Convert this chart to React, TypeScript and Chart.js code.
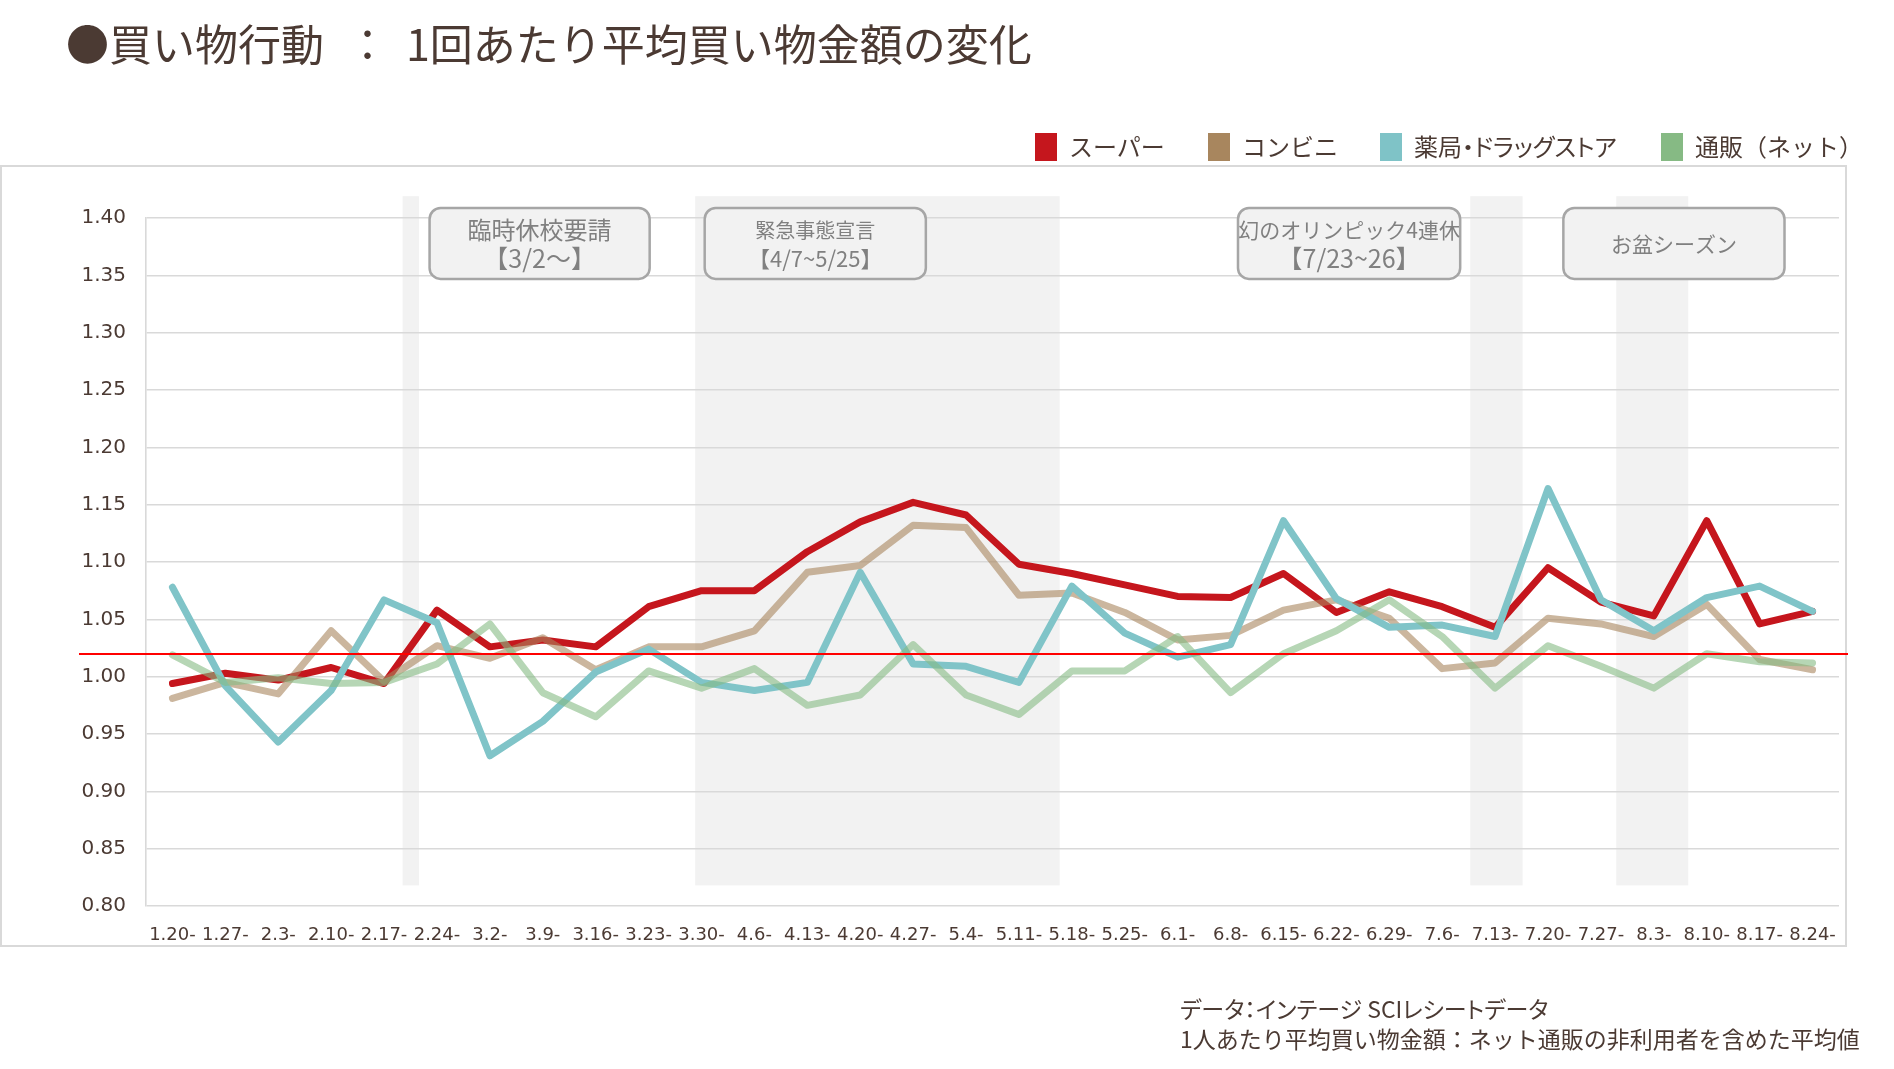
import { useEffect, useRef } from "react";
import { Chart, registerables } from "chart.js";

Chart.register(...registerables);

// Week starting dates (month.day-)
const weeks = [
  "1.20-", "1.27-", "2.3-", "2.10-", "2.17-", "2.24-", "3.2-", "3.9-", "3.16-", "3.23-",
  "3.30-", "4.6-", "4.13-", "4.20-", "4.27-", "5.4-", "5.11-", "5.18-", "5.25-", "6.1-",
  "6.8-", "6.15-", "6.22-", "6.29-", "7.6-", "7.13-", "7.20-", "7.27-", "8.3-", "8.10-",
  "8.17-", "8.24-",
];

// Average spend per shopping trip, index vs. the same week of the previous year
const supermarket = [
  0.994, 1.003, 0.997, 1.008, 0.994, 1.058, 1.026, 1.032, 1.026, 1.061,
  1.075, 1.075, 1.109, 1.135, 1.152, 1.141, 1.098, 1.090, 1.080, 1.070,
  1.069, 1.090, 1.056, 1.074, 1.061, 1.043, 1.095, 1.065, 1.053, 1.136,
  1.046, 1.057,
];
const convenience = [
  0.981, 0.995, 0.985, 1.040, 0.996, 1.027, 1.016, 1.034, 1.006, 1.026,
  1.026, 1.040, 1.091, 1.097, 1.132, 1.130, 1.071, 1.073, 1.056, 1.032,
  1.036, 1.058, 1.067, 1.051, 1.007, 1.012, 1.051, 1.046, 1.035, 1.063,
  1.015, 1.006,
];
const drugstore = [
  1.078, 0.992, 0.943, 0.988, 1.067, 1.047, 0.931, 0.961, 1.004, 1.024,
  0.995, 0.988, 0.995, 1.091, 1.011, 1.009, 0.995, 1.079, 1.038, 1.017,
  1.028, 1.136, 1.068, 1.043, 1.045, 1.035, 1.164, 1.067, 1.040, 1.069,
  1.079, 1.057,
];
const online = [
  1.019, 0.995, 0.999, 0.994, 0.995, 1.011, 1.046, 0.986, 0.965, 1.005,
  0.990, 1.007, 0.975, 0.984, 1.028, 0.984, 0.967, 1.005, 1.005, 1.035,
  0.986, 1.020, 1.040, 1.067, 1.035, 0.990, 1.027, 1.009, 0.990, 1.020,
  1.013, 1.012,
];

const seriesNames = ["スーパー", "コンビニ", "薬局・ドラッグストア", "通販（ネット）"];
const seriesValues = [supermarket, convenience, drugstore, online];

// Axis range
const yMin = 0.8;
const yMax = 1.4;
const yStep = 0.05;

// Overall average reference line
const baseline = 1.02;

// Shaded periods, in week-index units
const shadedPeriods: [number, number][] = [
  [4.35, 4.66],
  [9.88, 16.77],
  [24.53, 25.52],
  [27.29, 28.65],
];

// Event call-outs, in week-index units
const eventNotes = [
  { lines: ["臨時休校要請", "【3/2～】"], from: 4.86, to: 9.02, sizes: [24, 25] },
  { lines: ["緊急事態宣言", "【4/7~5/25】"], from: 10.06, to: 14.24, sizes: [20, 22] },
  { lines: ["幻のオリンピック4連休", "【7/23~26】"], from: 20.14, to: 24.34, sizes: [21, 25] },
  { lines: ["お盆シーズン"], from: 26.29, to: 30.47, sizes: [21] },
];

const textColor = "#4b3a33";
const legendColors = ["#c5161d", "#a8865e", "#7fc3c7", "#86ba84"];
const lineColors = ["#c5161d", "rgba(168,134,94,0.6)", "#80c4c8", "rgba(134,186,132,0.6)"];
const drawOrder = [3, 2, 1, 0];

const JP = '"Noto Sans CJK JP", "Noto Sans", sans-serif';

const bandsPlugin = {
  id: "bands",
  beforeDraw(chart: any) {
    const { ctx, scales } = chart;
    const x = scales.x;
    const y = scales.y;
    const top = y.getPixelForValue(1.419);
    const bottom = y.getPixelForValue(0.818);
    ctx.save();
    ctx.fillStyle = "#f2f2f2";
    for (const [a, b] of shadedPeriods) {
      const l = x.getPixelForValue(a);
      const r = x.getPixelForValue(b);
      ctx.fillRect(l, top, r - l, bottom - top);
    }
    ctx.restore();
  },
};

function roundRect(ctx: CanvasRenderingContext2D, x: number, y: number, w: number, h: number, r: number) {
  ctx.beginPath();
  ctx.moveTo(x + r, y);
  ctx.lineTo(x + w - r, y);
  ctx.arcTo(x + w, y, x + w, y + r, r);
  ctx.lineTo(x + w, y + h - r);
  ctx.arcTo(x + w, y + h, x + w - r, y + h, r);
  ctx.lineTo(x + r, y + h);
  ctx.arcTo(x, y + h, x, y + h - r, r);
  ctx.lineTo(x, y + r);
  ctx.arcTo(x, y, x + r, y, r);
  ctx.closePath();
}

const overlayPlugin = {
  id: "overlay",
  afterDatasetsDraw(chart: any) {
    const { ctx, scales, chartArea } = chart;
    const x = scales.x;
    const y = scales.y;

    // reference line
    const by = Math.round(y.getPixelForValue(baseline));
    ctx.save();
    ctx.strokeStyle = "#ff0000";
    ctx.lineWidth = 2;
    ctx.beginPath();
    ctx.moveTo(chartArea.left - 67, by);
    ctx.lineTo(chartArea.right + 9, by);
    ctx.stroke();

    // call-out boxes
    const boxTop = y.getPixelForValue(1.4087);
    const boxBottom = y.getPixelForValue(1.3469);
    for (const n of eventNotes) {
      const l = x.getPixelForValue(n.from);
      const r = x.getPixelForValue(n.to);
      roundRect(ctx, l, boxTop, r - l, boxBottom - boxTop, 11);
      ctx.fillStyle = "#f2f2f2";
      ctx.fill();
      ctx.strokeStyle = "#a6a6a6";
      ctx.lineWidth = 2.5;
      ctx.stroke();
      ctx.fillStyle = "#808080";
      ctx.textAlign = "center";
      ctx.textBaseline = "middle";
      const cx = (l + r) / 2;
      const mid = (boxTop + boxBottom) / 2 + 1;
      const gap = 29;
      n.lines.forEach((t, i) => {
        const off = (i - (n.lines.length - 1) / 2) * gap;
        ctx.font = `${n.sizes[i]}px ${JP}`;
        ctx.fillText(t, cx, mid + off);
      });
    }
    ctx.restore();
  },
};

export default function App() {
  const ref = useRef<HTMLCanvasElement>(null);

  useEffect(() => {
    const canvas = ref.current;
    if (!canvas) return;
    const chart = new Chart(canvas, {
      type: "line",
      data: {
        labels: weeks,
        datasets: seriesValues.map((vals, i) => ({
          label: seriesNames[i],
          data: vals,
          borderColor: lineColors[i],
          backgroundColor: legendColors[i],
          borderWidth: 7,
          pointRadius: 0,
          tension: 0,
          fill: false,
          order: drawOrder[i],
          borderJoinStyle: "round" as const,
          borderCapStyle: "round" as const,
        })),
      },
      options: {
        animation: false,
        responsive: false,
        maintainAspectRatio: false,
        devicePixelRatio: 1,
        layout: { padding: { left: 0, right: 55, top: 218, bottom: 113 } },
        plugins: { legend: { display: false }, tooltip: { enabled: false }, title: { display: false } },
        scales: {
          x: {
            offset: true,
            grid: { display: false, drawTicks: false },
            border: { display: false },
            ticks: {
              autoSkip: false,
              maxRotation: 0,
              minRotation: 0,
              padding: 19,
              color: textColor,
              font: { family: '"DejaVu Sans", sans-serif', size: 18 },
            },
            afterFit(s: any) {
              s.height = 50;
            },
          },
          y: {
            min: yMin,
            max: yMax,
            ticks: {
              stepSize: yStep,
              padding: 20,
              color: textColor,
              font: { family: '"DejaVu Sans", sans-serif', size: 20 },
              callback: (v: any) => Number(v).toFixed(2),
            },
            grid: { color: "#d9d9d9", lineWidth: 1.4, drawTicks: false },
            border: { color: "#d9d9d9", width: 1.6 },
            afterFit(s: any) {
              s.width = 146;
            },
          },
        },
      },
      plugins: [bandsPlugin, overlayPlugin],
    });
    return () => chart.destroy();
  }, []);

  const legendLeft = [1035, 1208, 1380, 1661];
  const titleStyle = {
    position: "absolute" as const,
    top: 19,
    fontSize: 43,
    lineHeight: "46px",
    whiteSpace: "nowrap" as const,
  };

  return (
    <div
      style={{
        position: "fixed",
        left: 0,
        top: 0,
        width: 1894,
        height: 1069,
        background: "#ffffff",
        overflow: "hidden",
        fontFamily: JP,
        color: textColor,
      }}
    >
      <div
        style={{
          position: "absolute",
          left: 0,
          top: 165,
          width: 1847,
          height: 782,
          border: "2px solid #d9d9d9",
          boxSizing: "border-box",
        }}
      />
      <canvas
        ref={ref}
        width={1894}
        height={1069}
        style={{ position: "absolute", left: 0, top: 0, width: 1894, height: 1069 }}
      />
      <div style={{ ...titleStyle, left: 66 }}>●買い物行動</div>
      <div style={{ ...titleStyle, left: 346 }}>：</div>
      <div style={{ ...titleStyle, left: 406 }}>1回あたり平均買い物金額の変化</div>
      {seriesNames.map((name, i) => (
        <div key={name}>
          <div
            style={{
              position: "absolute",
              left: legendLeft[i],
              top: 133,
              width: 22,
              height: 28,
              background: legendColors[i],
            }}
          />
          <div
            style={{
              position: "absolute",
              left: legendLeft[i] + 34,
              top: 131,
              fontSize: 24,
              lineHeight: "30px",
              whiteSpace: "nowrap",
              fontFeatureSettings: name.includes("・") ? '"palt"' : "normal",
            }}
          >
            {name}
          </div>
        </div>
      ))}
      <div style={{ position: "absolute", left: 1180, top: 993, fontSize: 23, lineHeight: "30px", whiteSpace: "nowrap" }}>
        <div style={{ fontFeatureSettings: '"palt"' }}>データ：インテージ SCIレシートデータ</div>
        <div>1人あたり平均買い物金額：ネット通販の非利用者を含めた平均値</div>
      </div>
    </div>
  );
}
